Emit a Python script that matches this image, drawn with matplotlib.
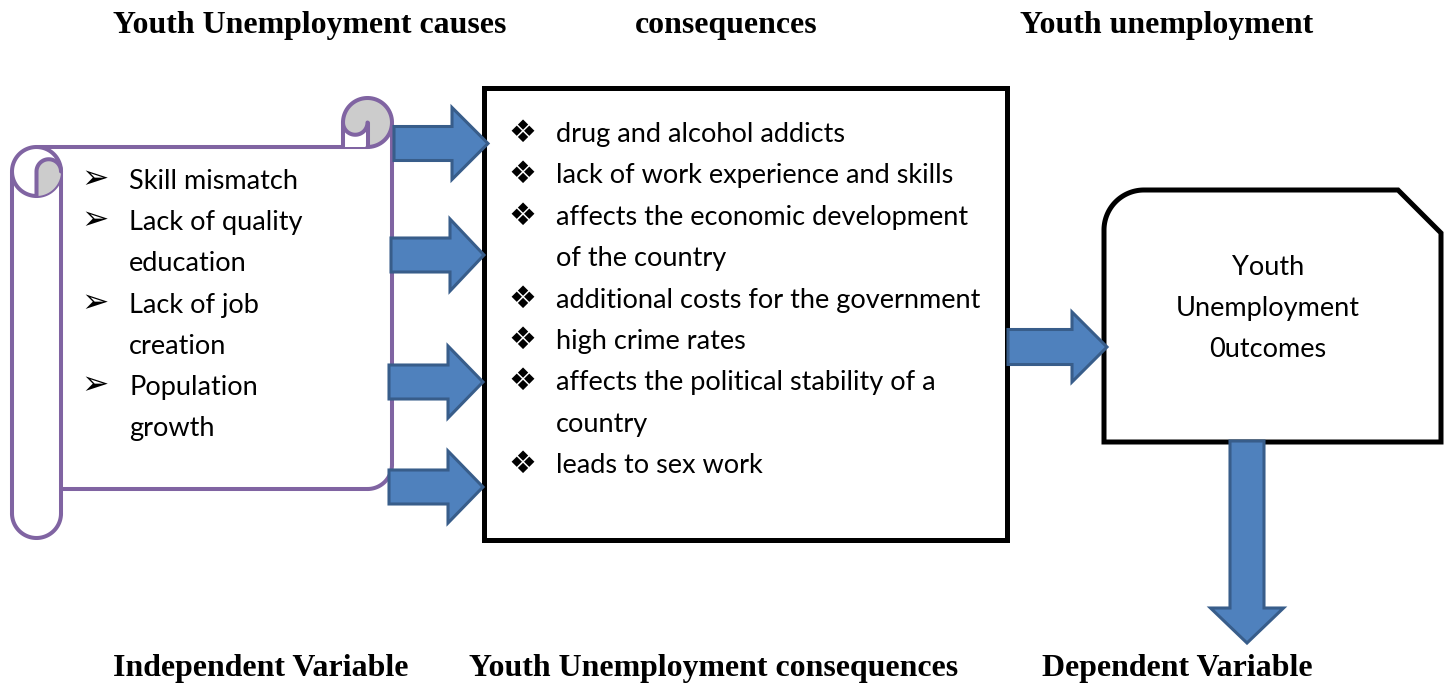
import matplotlib
matplotlib.use("Agg")
import matplotlib.pyplot as plt
from matplotlib.patches import Polygon, Circle
import numpy as np

# ---------------- data (texts) ----------------
top_titles = ["Youth Unemployment causes", "consequences", "Youth unemployment"]
bottom_titles = ["Independent Variable", "Youth Unemployment consequences", "Dependent Variable"]
causes = [["Skill mismatch"], ["Lack of quality", "education"],
          ["Lack of job", "creation"], ["Population", "growth"]]
consequences = [["drug and alcohol addicts"],
                ["lack of work experience and skills"],
                ["affects the economic development", "of the country"],
                ["additional costs for the government"],
                ["high crime rates"],
                ["affects the political stability of a", "country"],
                ["leads to sex work"]]
outcome_lines = ["Youth", "Unemployment", "0utcomes"]

# ---------------- layout ----------------
W, H = 1448, 684
PURPLE = "#8064A2"
GRAY = "#CCCCCC"
BLUE = "#4F81BD"
BLUE_EDGE = "#385D8A"
LW_P = 2.9
LW_B = 3.6
LW_A = 2.2

fig = plt.figure(figsize=(W / 100, H / 100), dpi=100)
ax = fig.add_axes([0, 0, 1, 1])
ax.set_xlim(0, W)
ax.set_ylim(H, 0)
ax.axis("off")
renderer = fig.canvas.get_renderer()


def fit_size(text, family, weight, target_px, base=20.0):
    t = fig.text(0, 0, text, fontsize=base, family=family, weight=weight)
    w = t.get_window_extent(renderer).width
    t.remove()
    return base * target_px / w


def arc(cx, cy, r, a0, a1, n=60):
    a = np.radians(np.linspace(a0, a1, n))
    return np.column_stack([cx + r * np.cos(a), cy + r * np.sin(a)])


def pline(pts, **kw):
    pts = np.asarray(pts)
    ax.plot(pts[:, 0], pts[:, 1], color=PURPLE, lw=LW_P,
            solid_capstyle="round", solid_joinstyle="round", **kw)


# ---------------- scroll ----------------
L, T, R, B = 12, 98, 392, 538
c = 49.0
h = c / 2

sheet = np.vstack([[(L + h, T + c), (R - h, T + c), (R, T + h)],
                   arc(R - h, B - c - h, h, 0, 90),
                   [(L + c, B - c), (L + c, T + c)]])
ax.add_patch(Polygon(sheet, closed=True, fc="white", ec="none", zorder=1))

pline([(L + h, T + c), (R - h, T + c)])
pline([(R, T + h), (R, B - c - h)])
pline(arc(R - h, B - c - h, h, 0, 90))
pline([(R - h, B - c), (L + c, B - c)])

# left roll
pline([(L, T + c + h), (L, B - h)])
pline(arc(L + h, B - h, h, 180, 0))
pline([(L + c, B - h), (L + c, T + c + h)])
ax.add_patch(Circle((L + h, T + c + h), h, fc="white", ec="none", zorder=1))
pline(arc(L + h, T + c + h, h, 0, 360, 120))
g = np.vstack([[(L + h, T + 2 * c), (L + h, T + c + h)],
               arc(L + h + h / 2, T + c + h, h / 2, 180, 360),
               arc(L + h, T + c + h, h, 0, 90)])
ax.add_patch(Polygon(g, closed=True, fc=GRAY, ec="none", zorder=2))
pline(np.vstack([[(L + h, T + 2 * c), (L + h, T + c + h)],
                 arc(L + h + h / 2, T + c + h, h / 2, 180, 360)]), zorder=3)

# top-right curl
ax.add_patch(Circle((R - h, T + h), h, fc=GRAY, ec="none", zorder=2))
notch = np.vstack([[(R - c, T + h), (R - c, T + c), (R - h, T + c), (R - h, T + h)],
                   arc(R - h - h / 2, T + h, h / 2, 0, 180)])
ax.add_patch(Polygon(notch, closed=True, fc="white", ec="none", zorder=2))
pline(arc(R - h, T + h, h, 90, -180), zorder=3)
pline([(R - c, T + h), (R - c, T + c)], zorder=3)
pline(arc(R - h - h / 2, T + h, h / 2, 0, 180), zorder=3)
pline([(R - h, T + h), (R - h, T + c)], zorder=3)

# ---------------- middle box ----------------
MB = (484, 88, 1007, 540)
ax.add_patch(Polygon([(MB[0], MB[1]), (MB[2], MB[1]), (MB[2], MB[3]), (MB[0], MB[3])],
                     closed=True, fc="white", ec="black", lw=LW_B, joinstyle="miter", zorder=2))

# ---------------- outcome box ----------------
OL, OT, OR, OB = 1104, 190, 1441, 442
cut, rad = 43, 40
ob = np.vstack([[(OL + rad, OT), (OR - cut, OT), (OR, OT + cut), (OR, OB), (OL, OB), (OL, OT + rad)],
                arc(OL + rad, OT + rad, rad, 180, 270)])
ax.add_patch(Polygon(ob, closed=True, fc="white", ec="black", lw=LW_B, joinstyle="miter", zorder=2))


# ---------------- arrows ----------------
def h_arrow(x0, x1, xt, yc, sh=17, hh=36):
    pts = [(x0, yc - sh), (x1, yc - sh), (x1, yc - hh), (xt, yc),
           (x1, yc + hh), (x1, yc + sh), (x0, yc + sh)]
    ax.add_patch(Polygon(pts, closed=True, fc=BLUE, ec=BLUE_EDGE, lw=LW_A,
                         joinstyle="miter", zorder=5))


def v_arrow(y0, y1, yt, xc, sh=17, hh=36):
    pts = [(xc - sh, y0), (xc - sh, y1), (xc - hh, y1), (xc, yt),
           (xc + hh, y1), (xc + sh, y1), (xc + sh, y0)]
    ax.add_patch(Polygon(pts, closed=True, fc=BLUE, ec=BLUE_EDGE, lw=LW_A,
                         joinstyle="miter", zorder=5))


h_arrow(394, 452, 488, 143.5)
h_arrow(391, 450, 484, 255)
h_arrow(389, 448, 483, 382)
h_arrow(389, 448, 483, 487)
h_arrow(1008, 1072, 1107, 347, sh=17.5, hh=35)
v_arrow(441, 608, 643, 1247, sh=17, hh=36.5)

# ---------------- text ----------------
SERIF = "Liberation Serif"
SANS = "Lato"
tsize = fit_size(top_titles[0], SERIF, "bold", 393)
bsize = fit_size(consequences[3][0], SANS, "normal", 426)

top_x = [113, 635, 1020]
bot_x = [113, 469, 1042]
for t, x in zip(top_titles, top_x):
    ax.text(x, 33, t, family=SERIF, weight="bold", fontsize=tsize, ha="left", va="baseline")
for t, x in zip(bottom_titles, bot_x):
    ax.text(x, 676, t, family=SERIF, weight="bold", fontsize=tsize, ha="left", va="baseline")

# causes
step = 41.2
y = 189
for item in causes:
    ax.text(81, y - 1, "\u27a2", family="DejaVu Sans", fontsize=bsize * 1.2,
            ha="left", va="baseline", zorder=6)
    for line in item:
        ax.text(129, y, line, family=SANS, fontsize=bsize, ha="left", va="baseline", zorder=6)
        y += step

# consequences
step2 = 41.4
y = 142
for item in consequences:
    ax.text(508, y, "\u2756", family="DejaVu Sans", fontsize=bsize * 1.15,
            ha="left", va="baseline", zorder=6)
    for line in item:
        ax.text(556, y, line, family=SANS, fontsize=bsize, ha="left", va="baseline", zorder=6)
        y += step2

# outcome
y = 275
for line in outcome_lines:
    ax.text(1268, y, line, family=SANS, fontsize=bsize, ha="center", va="baseline", zorder=6)
    y += 41

fig.savefig("out.png", dpi=100)
